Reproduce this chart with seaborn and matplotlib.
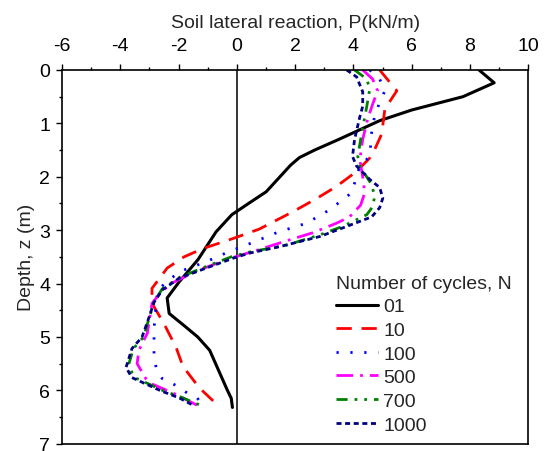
import matplotlib
matplotlib.use("Agg")
import matplotlib.pyplot as plt
from matplotlib.ticker import MultipleLocator
import seaborn as sns
import pandas as pd

# Soil lateral reaction P (kN/m) against depth z (m) for each number of cycles
p_01 = [8.31, 8.83, 7.76, 6.0, 4.9, 4.1, 3.5, 2.67, 2.15, 1.85, 1.01, 0.43, -0.17, -0.71,
        -1.33, -1.98, -2.39, -2.32, -1.78, -1.34, -0.93, -0.33, -0.19, -0.15]
z_01 = [0.0, 0.24, 0.5, 0.75, 0.95, 1.15, 1.3, 1.5, 1.64, 1.78, 2.28, 2.49, 2.71, 3.03,
        3.55, 3.97, 4.27, 4.56, 4.8, 5.0, 5.25, 5.99, 6.15, 6.32]

p_10 = [4.9, 5.49, 5.08, 4.97, 4.73, 4.56, 4.11, 3.42, 2.73, 1.94, 0.77, -0.15, -1.19, -1.81,
        -2.39, -2.91, -2.91, -2.5, -2.08, -1.85, -1.29, -0.67]
z_10 = [0.0, 0.39, 0.73, 1.2, 1.49, 1.65, 1.9, 2.18, 2.41, 2.65, 2.98, 3.16, 3.35, 3.5,
        3.71, 4.09, 4.37, 4.75, 5.2, 5.55, 5.95, 6.27]

p_100 = [4.56, 4.9, 5.08, 4.9, 4.73, 4.63, 4.56, 4.22, 3.94, 3.18, 2.39, 1.4, 0.55, -0.3,
         -1.05, -1.98, -2.72, -2.84, -2.84, -2.77, -2.56, -2.08, -1.7, -1.36, -1.22]
z_100 = [0.0, 0.17, 0.39, 0.61, 0.86, 1.15, 1.62, 1.8, 2.3, 2.62, 2.87, 3.04, 3.23, 3.41,
         3.59, 3.78, 4.12, 4.84, 5.35, 5.57, 5.78, 5.91, 6.05, 6.14, 6.25]

p_500 = [4.32, 4.66, 4.83, 4.66, 4.49, 4.32, 4.22, 4.32, 4.39, 4.25, 3.87, 3.42, 2.6, 1.7,
         0.67, -0.3, -1.4, -2.22, -2.6, -2.91, -3.07, -3.36, -3.42, -3.12, -2.91, -2.15,
         -1.64, -1.22]
z_500 = [0.0, 0.17, 0.39, 0.64, 0.92, 1.3, 1.68, 2.0, 2.3, 2.53, 2.75, 2.87, 3.05, 3.2,
         3.38, 3.54, 3.77, 3.99, 4.16, 4.37, 4.93, 5.25, 5.5, 5.78, 5.88, 6.06, 6.2, 6.32]

p_700 = [4.04, 4.46, 4.56, 4.46, 4.29, 4.15, 4.22, 4.63, 4.73, 4.66, 4.46, 3.63, 2.84, 1.71,
         0.43, -0.19, -1.05, -1.95, -2.56, -2.84, -3.0, -3.2, -3.55, -3.7, -3.55, -3.1,
         -2.55, -1.9, -1.29]
z_700 = [0.0, 0.17, 0.36, 0.68, 1.17, 1.62, 1.8, 2.15, 2.37, 2.56, 2.71, 2.93, 3.09, 3.28,
         3.41, 3.5, 3.68, 3.88, 4.1, 4.35, 4.63, 5.0, 5.22, 5.5, 5.75, 5.86, 6.0, 6.13, 6.27]

p_1000 = [3.77, 4.11, 4.32, 4.32, 4.22, 4.04, 3.97, 4.11, 4.56, 4.9, 5.01, 4.9, 4.63, 3.77,
          2.84, 1.46, 0.43, -0.1, -1.05, -1.98, -2.56, -2.84, -3.01, -3.25, -3.6, -3.8,
          -3.6, -3.12, -2.6, -1.98, -1.46]
z_1000 = [0.0, 0.13, 0.41, 0.68, 0.88, 1.3, 1.62, 1.8, 2.05, 2.2, 2.4, 2.58, 2.75, 2.93,
          3.12, 3.31, 3.43, 3.52, 3.71, 3.9, 4.12, 4.35, 4.63, 5.0, 5.22, 5.57, 5.76, 5.88,
          6.01, 6.14, 6.29]

cycle_labels = ["01", "10", "100", "500", "700", "1000"]
p_series = [p_01, p_10, p_100, p_500, p_700, p_1000]
z_series = [z_01, z_10, z_100, z_500, z_700, z_1000]

x_ticks = [-6, -4, -2, 0, 2, 4, 6, 8, 10]
y_ticks = [0, 1, 2, 3, 4, 5, 6, 7]

colors = ["#000000", "#ff0000", "#0000ff", "#ff00ff", "#008000", "#000080"]
dash_styles = [
    "-",
    (0, (5.5, 3.5)),
    (0, (0.8, 4.2)),
    (0, (6, 2.5, 1, 2.5)),
    (0, (4, 2.5, 1, 2.5, 1, 2.5)),
    (0, (1.8, 1.3)),
]
widths = [2.2, 2.0, 2.0, 2.0, 2.0, 2.0]

sns.set_style("ticks")
plt.rcParams["font.family"] = ["Liberation Sans", "DejaVu Sans"]
plt.rcParams["font.size"] = 14
plt.rcParams["axes.unicode_minus"] = False

fig = plt.figure(figsize=(5.48, 4.52), dpi=100)
ax = fig.add_axes([0.113, 0.016, 0.851, 0.827])

for lab, p, z, c, ls, lw in zip(cycle_labels, p_series, z_series, colors, dash_styles, widths):
    df = pd.DataFrame({"P": p, "z": z})
    sns.lineplot(data=df, x="P", y="z", sort=False, estimator=None, ax=ax,
                 color=c, linestyle=ls, linewidth=lw, label=lab)

ax.axvline(0, color="black", linewidth=1.1, zorder=0)

ax.set_xlim(-6, 10)
ax.set_ylim(7, 0)
ax.set_xticks(x_ticks)
ax.set_yticks(y_ticks)
ax.xaxis.set_minor_locator(MultipleLocator(1))
ax.yaxis.set_minor_locator(MultipleLocator(0.5))
ax.xaxis.tick_top()
ax.xaxis.set_label_position("top")
ax.tick_params(axis="both", which="major", direction="out", length=4.5, width=1.0,
               labelsize=14, color="black", labelcolor="black")
ax.tick_params(axis="x", which="major", pad=7)
ax.tick_params(axis="y", which="major", pad=4)
ax.tick_params(axis="both", which="minor", direction="out", length=2.5, width=1.0,
               color="black")
ax.tick_params(axis="x", which="both", top=True, bottom=False)
ax.tick_params(axis="y", which="both", left=True, right=False)

ax.set_xlabel("Soil lateral reaction, P(kN/m)", fontsize=14, labelpad=7)
ax.set_ylabel("Depth, z (m)", fontsize=14, labelpad=3)

for side in ["top", "bottom", "left", "right"]:
    ax.spines[side].set_visible(True)
    ax.spines[side].set_linewidth(1.2)
    ax.spines[side].set_color("black")

leg = ax.legend(title="Number of cycles, N", loc="upper left",
                bbox_to_anchor=(0.57, 0.473), frameon=False, fontsize=14,
                title_fontsize=14, handlelength=2.2, handletextpad=0.26,
                labelspacing=0.31, borderaxespad=0, alignment="left")

fig.savefig("out.png", dpi=100)
